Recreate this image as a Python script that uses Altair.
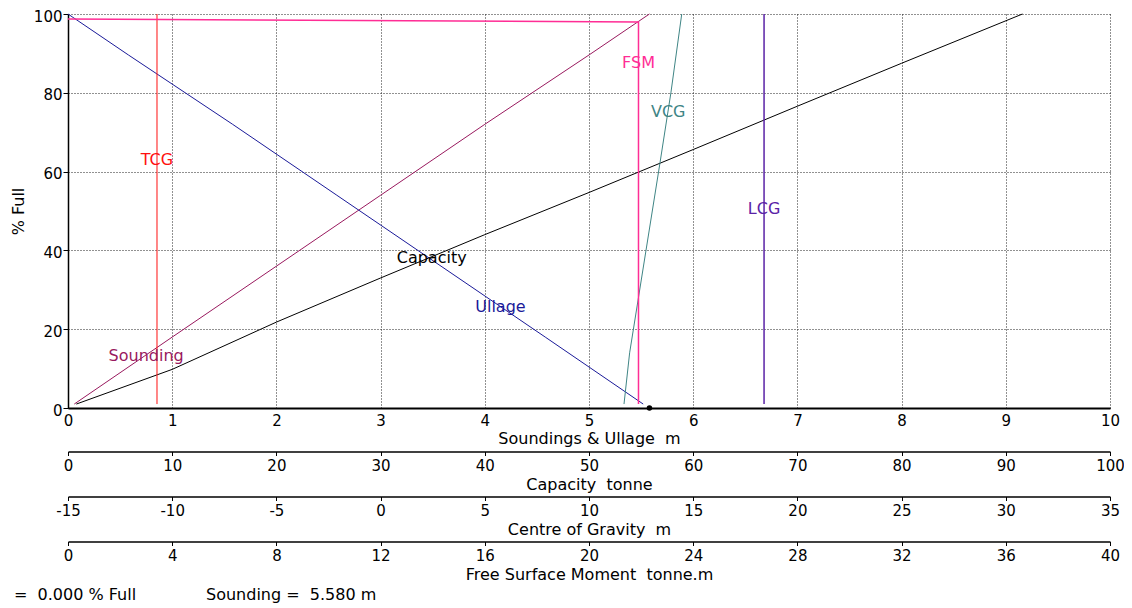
import altair as alt
import pandas as pd

# ---------------- data ----------------
sounding_m = [0.06, 1, 2, 3, 4, 5, 5.58]
sounding_pct = [1, 18, 36, 54, 72, 89.6, 100]

ullage_m = [0, 0.58, 1.58, 2.58, 3.58, 4.58, 5.52]
ullage_pct = [100, 89.6, 72, 54, 36, 18, 1]

capacity_t = [0.8, 10, 20, 30, 40, 50, 60, 70, 80, 91.6]
capacity_pct = [1, 9.8, 21.8, 33, 44, 54.7, 65.6, 76.6, 87.5, 100]

tcg_m = [-10.73, -10.73]
tcg_pct = [1, 100]

lcg_m = [18.4, 18.4]
lcg_pct = [1, 100]

vcg_m = [11.68, 11.95, 13.4, 13.93, 14.45]
vcg_pct = [1, 14, 62, 80, 100]

fsm_tm = [21.9, 21.9, 0]
fsm_pct = [1, 98, 98.7]

current_sounding = [5.58]
current_pct = [0]

# labels: name, x value (in own units), % full
lab_main = ["Sounding", "Ullage"]
lab_main_x = [0.75, 4.15]
lab_main_y = [13.2, 25.6]
lab_cap = ["Capacity"]
lab_cap_x = [34.9]
lab_cap_y = [38.1]
lab_cg = ["TCG", "VCG", "LCG"]
lab_cg_x = [-10.73, 13.8, 18.4]
lab_cg_y = [62.9, 75.1, 50.5]
lab_fsm = ["FSM"]
lab_fsm_x = [21.9]
lab_fsm_y = [87.6]

main_ticks = list(range(0, 11))
cap_ticks = list(range(0, 101, 10))
cg_ticks = list(range(-15, 36, 5))
fsm_ticks = list(range(0, 41, 4))
pct_ticks = list(range(0, 101, 20))

status_texts = ["=\u00a0 0.000 % Full", "Sounding =\u00a0 5.580 m"]

# ---------------- styling ----------------
FONT = "DejaVu Sans"
FS = 15      # tick labels
TFS = 16     # titles and in-chart text
W, H = 1042, 394

MAIN_DOM = [0, 10]
CAP_DOM = [0, 100]
CG_DOM = [-15, 35]
FSM_DOM = [0, 40]

PLAIN = "datum.value + ''"

yaxis = alt.Axis(
    title="% Full", values=pct_ticks, grid=True, gridColor="#222222",
    gridDash=[1, 2], gridWidth=1, domainColor="black", domainWidth=1.5,
    tickColor="black", tickSize=5, labelPadding=1, titlePadding=7,
    labelOffset=2, labelFlush=False,
    labelFontSize=FS, titleFontSize=TFS, labelColor="black", titleColor="black",
)


def Y():
    return alt.Y("pct:Q", scale=alt.Scale(domain=[0, 100], nice=False, zero=False), axis=yaxis)


def make_axis(title, values, offset, main=False):
    if main:
        return alt.Axis(
            title=title, values=values, orient="bottom", offset=0, grid=True,
            gridColor="#222222", gridDash=[1, 2], gridWidth=1, domainColor="black",
            domainWidth=2, ticks=False, labelPadding=5, titlePadding=2,
            labelFlush=False, labelExpr=PLAIN,
            labelFontSize=FS, titleFontSize=TFS, labelColor="black", titleColor="black",
        )
    return alt.Axis(
        title=title, values=values, orient="bottom", offset=offset, grid=False,
        domainColor="black", domainWidth=1.5, tickColor="black", tickSize=4,
        labelPadding=3, titlePadding=3, labelFlush=False, labelExpr=PLAIN,
        labelFontSize=FS, titleFontSize=TFS,
        labelColor="black", titleColor="black",
    )


def X(domain, axis=None):
    return alt.X("x:Q", scale=alt.Scale(domain=domain, nice=False, zero=False), axis=axis)


def line(xs, ys, color, domain, axis=None, width=1.0):
    df = pd.DataFrame({"x": xs, "pct": ys, "i": list(range(len(xs)))})
    return alt.Chart(df).mark_line(color=color, strokeWidth=width).encode(
        x=X(domain, axis), y=Y(), order="i:Q"
    )


def labels(names, xs, ys, colors, domain):
    df = pd.DataFrame({"x": xs, "pct": ys, "name": names, "c": colors})
    return alt.Chart(df).mark_text(font=FONT, fontSize=TFS, baseline="middle").encode(
        x=X(domain), y=Y(), text="name:N", color=alt.Color("c:N", scale=None)
    )


C_SOUND = "#99195e"
C_ULL = "#1a1a99"
C_CAP = "#000000"
C_TCG = "#ff1010"
C_LCG = "#5a22a6"
C_VCG = "#3f8585"
C_FSM = "#ff2d95"

main_axis = make_axis("Soundings & Ullage\u00a0 m", main_ticks, 0, main=True)
cap_axis = make_axis("Capacity\u00a0 tonne", cap_ticks, 43.5)
cg_axis = make_axis("Centre of Gravity\u00a0 m", cg_ticks, 88.5)
fsm_axis = make_axis("Free Surface Moment\u00a0 tonne.m", fsm_ticks, 133.5)

layers = [
    line(sounding_m, sounding_pct, C_SOUND, MAIN_DOM, main_axis),
    line(ullage_m, ullage_pct, C_ULL, MAIN_DOM),
    line(capacity_t, capacity_pct, C_CAP, CAP_DOM, cap_axis),
    line(tcg_m, tcg_pct, C_TCG, CG_DOM, cg_axis),
    line(lcg_m, lcg_pct, C_LCG, CG_DOM, None, 1.5),
    line(vcg_m, vcg_pct, C_VCG, CG_DOM),
    line(fsm_tm, fsm_pct, C_FSM, FSM_DOM, fsm_axis, 1.5),
    labels(lab_main, lab_main_x, lab_main_y, [C_SOUND, C_ULL], MAIN_DOM),
    labels(lab_cap, lab_cap_x, lab_cap_y, [C_CAP], CAP_DOM),
    labels(lab_cg, lab_cg_x, lab_cg_y, [C_TCG, C_VCG, C_LCG], CG_DOM),
    labels(lab_fsm, lab_fsm_x, lab_fsm_y, [C_FSM], FSM_DOM),
    alt.Chart(pd.DataFrame({"x": current_sounding, "pct": current_pct}))
    .mark_point(filled=True, color="black", size=30, opacity=1)
    .encode(x=X(MAIN_DOM), y=Y()),
    alt.Chart(pd.DataFrame({"t": [status_texts[0]]}))
    .mark_text(font=FONT, fontSize=TFS, align="left", baseline="middle", color="black")
    .encode(x=alt.value(-54), y=alt.value(581), text="t:N"),
    alt.Chart(pd.DataFrame({"t": [status_texts[1]]}))
    .mark_text(font=FONT, fontSize=TFS, align="left", baseline="middle", color="black")
    .encode(x=alt.value(138), y=alt.value(581), text="t:N"),
]

chart = (
    alt.layer(*layers)
    .resolve_scale(x="independent", y="shared")
    .properties(
        width=W, height=H, autosize="none",
        padding={"left": 60, "top": 6, "right": 14, "bottom": 196},
    )
    .configure(font=FONT)
    .configure_view(stroke=None)
    .configure_axis(labelFont=FONT, titleFont=FONT, titleFontWeight="normal")
)

chart.save("out.html", embed_options={"renderer": "svg", "actions": False})
